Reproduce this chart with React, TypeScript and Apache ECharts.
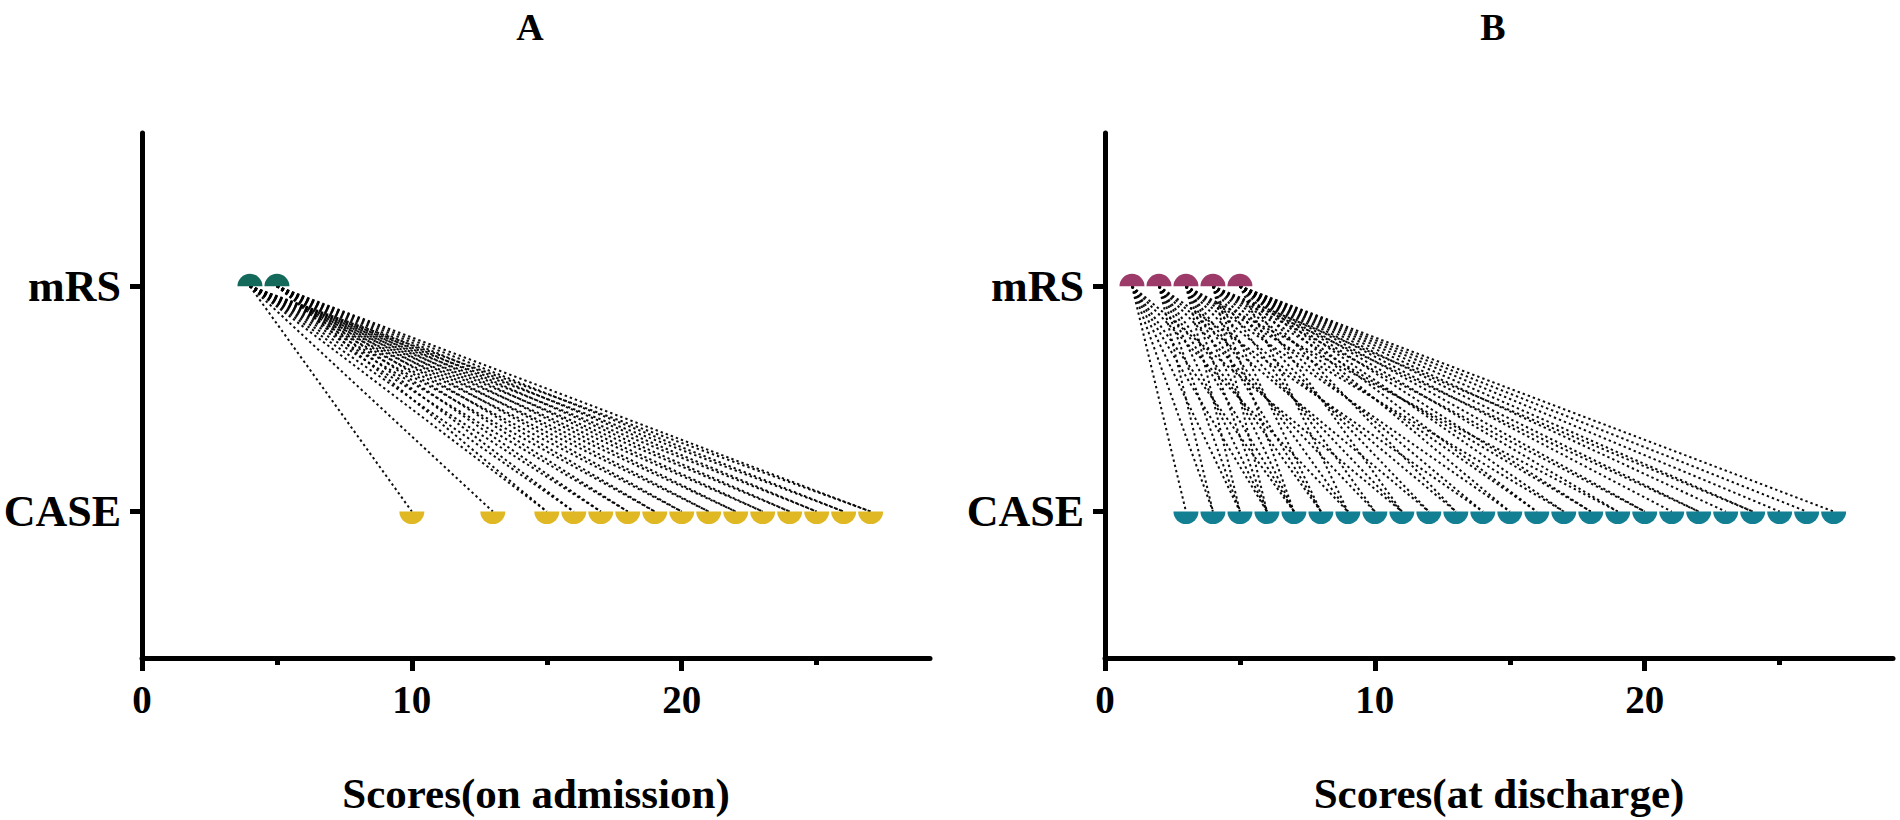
import React, { useEffect, useRef } from "react";
import * as echarts from "echarts";

// ---- data ----
const xTickValues = [0, 10, 20];
const xMinorTickValues = [5, 15, 25];
const yLabels = ["CASE", "mRS"]; // drawn at y = 1 and y = 2
const CASE_Y = 1;
const MRS_Y = 2;

// Panel A: paired scores on admission (one entry per patient)
const admissionMRS = [
  4, 4, 4, 4, 4, 4, 4, 4, 4, 4, 4, 4, 4, 4, 4,
  5, 5, 5, 5, 5, 5, 5, 5, 5, 5, 5, 5, 5,
];
const admissionCASE = [
  10, 13, 15, 16, 17, 18, 19, 20, 21, 22, 23, 24, 25, 26, 27,
  15, 16, 17, 18, 19, 20, 21, 22, 23, 24, 25, 26, 27,
];

// Panel B: paired scores at discharge (one entry per patient)
const dischargeMRS = [
  1, 1, 1, 1, 1, 1, 1,
  2, 2, 2, 2, 2, 2, 2, 2,
  3, 3, 3, 3, 3, 3, 3, 3, 3, 3,
  4, 4, 4, 4, 4, 4, 4, 4, 4, 4, 4,
  5, 5, 5, 5, 5, 5, 5, 5, 5, 5, 5, 5, 5, 5, 5, 5,
];
const dischargeCASE = [
  3, 4, 5, 6, 7, 9, 11,
  4, 5, 6, 7, 8, 10, 12, 14,
  5, 6, 7, 8, 9, 11, 13, 15, 17, 19,
  6, 7, 8, 10, 12, 14, 16, 18, 20, 22, 24,
  9, 11, 13, 15, 16, 17, 18, 19, 20, 21, 22, 23, 24, 25, 26, 27,
];

const SERIF = '"Liberation Serif", "Times New Roman", serif';

const panels = [
  {
    title: "A",
    xName: "Scores(on admission)",
    mrs: admissionMRS,
    cas: admissionCASE,
    mrsColor: "#13695a",
    caseColor: "#dfb823",
    left: 142,
  },
  {
    title: "B",
    xName: "Scores(at discharge)",
    mrs: dischargeMRS,
    cas: dischargeCASE,
    mrsColor: "#9c3a69",
    caseColor: "#127f93",
    left: 1105,
  },
];

const GRID_TOP = 133;
const GRID_H = 527;
const GRID_W = 788;
const X_MAX = 29.2;

const TOP_HALF = "path://M0,10 A10,10 0 0 1 20,10 Z";
const BOTTOM_HALF = "path://M0,0 A10,10 0 0 0 20,0 Z";

function unique(arr: number[]) {
  return Array.from(new Set(arr)).sort((a, b) => a - b);
}

function buildOption() {
  const grid: any[] = [];
  const xAxis: any[] = [];
  const yAxis: any[] = [];
  const series: any[] = [];
  const graphic: any[] = [];

  panels.forEach((p, i) => {
    grid.push({
      left: p.left,
      top: GRID_TOP,
      width: GRID_W,
      height: GRID_H,
      containLabel: false,
    });
    xAxis.push({
      type: "value",
      gridIndex: i,
      position: "bottom",
      min: 0,
      max: X_MAX,
      name: p.xName,
      nameLocation: "middle",
      nameGap: 114,
      nameTextStyle: {
        fontFamily: SERIF,
        fontWeight: "bold",
        fontSize: 43,
        color: "#000",
      },
      axisLine: { show: true, lineStyle: { color: "#000", width: 5 } },
      axisTick: {
        show: true,
        customValues: xTickValues,
        length: 13,
        lineStyle: { color: "#000", width: 5 },
      },
      axisLabel: {
        show: true,
        customValues: xTickValues,
        margin: 22,
        fontFamily: SERIF,
        fontWeight: "bold",
        fontSize: 39,
        color: "#000",
      },
      splitLine: { show: false },
    });
    xAxis.push({
      type: "value",
      gridIndex: i,
      position: "bottom",
      min: 0,
      max: X_MAX,
      axisLine: { show: false },
      axisTick: {
        show: true,
        customValues: xMinorTickValues,
        length: 7,
        lineStyle: { color: "#000", width: 5 },
      },
      axisLabel: { show: false },
      splitLine: { show: false },
    });
    yAxis.push({
      type: "value",
      gridIndex: i,
      min: 0.35,
      max: 2.68,
      axisLine: { show: true, lineStyle: { color: "#000", width: 5 } },
      axisTick: {
        show: true,
        customValues: [CASE_Y, MRS_Y],
        length: 12,
        lineStyle: { color: "#000", width: 5 },
      },
      axisLabel: {
        show: true,
        customValues: [CASE_Y, MRS_Y],
        formatter: (v: number) => (Math.round(v) === MRS_Y ? yLabels[1] : yLabels[0]),
        margin: 21,
        fontFamily: SERIF,
        fontWeight: "bold",
        fontSize: 44,
        color: "#000",
      },
      splitLine: { show: false },
    });

    series.push({
      type: "lines",
      coordinateSystem: "cartesian2d",
      xAxisIndex: 2 * i,
      yAxisIndex: i,
      z: 1,
      silent: true,
      lineStyle: { color: "#000", width: 2, type: [2.4, 3], opacity: 0.95 },
      data: p.mrs.map((m, k) => ({
        coords: [
          [m, MRS_Y],
          [p.cas[k], CASE_Y],
        ],
      })),
    });
    series.push({
      type: "scatter",
      xAxisIndex: 2 * i,
      yAxisIndex: i,
      z: 3,
      symbol: TOP_HALF,
      symbolSize: [25, 12.5],
      symbolOffset: [0, -6.25],
      itemStyle: { color: p.mrsColor, opacity: 1 },
      data: unique(p.mrs).map((m) => [m, MRS_Y]),
    });
    series.push({
      type: "scatter",
      xAxisIndex: 2 * i,
      yAxisIndex: i,
      z: 3,
      symbol: BOTTOM_HALF,
      symbolSize: [25, 12.5],
      symbolOffset: [0, 6.25],
      itemStyle: { color: p.caseColor, opacity: 1 },
      data: unique(p.cas).map((c) => [c, CASE_Y]),
    });

    graphic.push({
      type: "text",
      x: p.left + GRID_W / 2 - 6,
      y: 27,
      style: {
        text: p.title,
        font: `bold 38px ${SERIF}`,
        fill: "#000",
        align: "center",
        verticalAlign: "middle",
      },
    });
  });

  return {
    animation: false,
    backgroundColor: "#fff",
    grid,
    xAxis,
    yAxis,
    series,
    graphic,
  };
}

export default function App() {
  const ref = useRef<HTMLDivElement>(null);
  useEffect(() => {
    if (!ref.current) return;
    const chart = echarts.init(ref.current, undefined, { renderer: "svg" });
    chart.setOption(buildOption() as any);
    return () => chart.dispose();
  }, []);
  return (
    <div
      ref={ref}
      style={{
        position: "fixed",
        left: 0,
        top: 0,
        width: "1900px",
        height: "820px",
        background: "#fff",
      }}
    />
  );
}
